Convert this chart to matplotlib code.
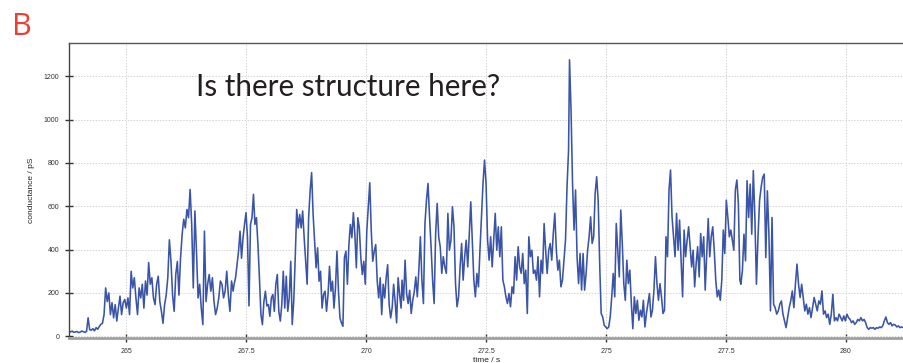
#Conductance trace re-drawn from the figure panel B
import numpy as np
import matplotlib
matplotlib.use('Agg')
import matplotlib.pyplot as plt

#Data: conductance (pS), in 5 consecutive stretches
#each stretch is sampled uniformly between its start and end time (s)
#---------------------------------
seg1_t = [263.81, 267.23]
seg1_g = [22, 20, 24, 18, 20, 22, 17, 19, 24, 21, 18, 22, 85, 30, 28, 35, 25, 40, 32, 45,
          55, 60, 100, 223, 160, 200, 100, 155, 85, 146, 70, 130, 185, 100, 155, 170, 130, 177,
          100, 300, 223, 270, 177, 100, 223, 177, 240, 130, 255, 190, 340, 240, 270, 177, 146,
          240, 277, 160, 115, 60, 146, 190, 270, 445, 345, 190, 115, 285, 345, 190, 360, 470,
          540, 500, 585, 547, 677, 516, 223, 578, 393, 177, 240, 130, 54, 485, 160, 240, 285,
          208, 270, 160, 100, 130, 177, 255, 240, 177, 208, 300, 190, 115, 255, 208]

seg2_t = [267.25, 270.73]
seg2_g = [240, 270, 330, 393, 485, 360, 455, 516, 570, 455, 140, 516, 547, 655, 516, 547, 423,
          270, 100, 54, 160, 208, 140, 146, 92, 177, 193, 115, 240, 285, 115, 70, 146, 300, 130,
          277, 115, 177, 346, 54, 160, 360, 585, 500, 562, 500, 578, 455, 346, 240, 547, 670,
          755, 562, 440, 316, 408, 254, 300, 130, 193, 208, 115, 193, 323, 208, 254, 130, 223,
          393, 208, 85, 62, 46, 362, 393, 240, 423, 516, 455, 570, 470, 316, 547, 500, 362, 285,
          346, 240, 485, 593, 708, 485, 346, 393, 423, 254, 177, 270, 100, 240, 177, 270, 330,
          146, 85, 130, 240, 160, 62, 270, 193, 130]

seg3_t = [270.75, 274.22]
seg3_g = [259, 166, 351, 197, 151, 212, 105, 166, 205, 274, 182, 305, 459, 259, 151, 520, 628,
          705, 551, 413, 259, 151, 474, 613, 459, 413, 290, 367, 320, 290, 567, 397, 443, 598,
          505, 243, 136, 182, 320, 428, 259, 367, 443, 320, 474, 620, 443, 259, 182, 290, 228,
          397, 551, 705, 813, 705, 443, 351, 459, 320, 443, 567, 397, 505, 367, 505, 259, 228,
          182, 151, 197, 136, 228, 197, 367, 259, 413, 320, 290, 382, 243, 305, 105, 459, 367,
          397, 290, 305, 259, 367, 182, 351, 290, 520, 397, 290, 397, 428, 351, 474, 567, 397,
          305, 351, 228, 259, 351, 443, 690, 859]

seg4_t = [274.24, 277.79]
seg4_g = [1275, 1044, 705, 490, 675, 367, 243, 382, 213, 382, 213, 290, 397, 459, 551, 428,
          459, 659, 736, 628, 336, 105, 89, 51, 43, 35, 43, 89, 182, 290, 182, 520, 397, 274,
          582, 428, 243, 166, 351, 243, 305, 151, 35, 182, 105, 166, 74, 120, 89, 166, 43, 105,
          151, 197, 89, 120, 213, 367, 243, 166, 243, 182, 105, 120, 459, 367, 675, 767, 551,
          459, 367, 567, 397, 536, 351, 182, 490, 367, 443, 505, 413, 320, 397, 228, 336, 413,
          274, 474, 367, 459, 213, 382, 543, 367, 459, 505, 397, 259, 182, 213, 166, 259, 490,
          382, 628, 551, 459, 490, 443, 397, 675, 721, 613, 259]

seg5_t = [277.81, 281.19]
seg5_g = [240, 302, 471, 348, 718, 548, 702, 471, 764, 548, 240, 456, 625, 687, 733, 748, 363,
          671, 471, 117, 548, 148, 132, 102, 117, 148, 163, 102, 71, 40, 86, 132, 163, 209, 132,
          240, 333, 240, 179, 240, 179, 117, 148, 102, 132, 86, 132, 179, 148, 117, 163, 148,
          209, 102, 117, 86, 102, 55, 102, 194, 71, 86, 71, 102, 86, 71, 94, 71, 102, 86, 78,
          63, 71, 55, 63, 78, 71, 86, 71, 78, 63, 40, 32, 40, 37, 40, 32, 40, 37, 43, 40, 48,
          71, 89, 63, 55, 63, 48, 55, 52, 43, 48, 40, 43, 40]
#---------------------------------

#Ticks
xtick_values = [265, 267.5, 270, 272.5, 275, 277.5, 280]
xtick_labels = ['265', '267.5', '270', '272.5', '275', '277.5', '280']
ytick_values = [0, 200, 400, 600, 800, 1000, 1200]

#Build the full trace
segments = [(seg1_t, seg1_g), (seg2_t, seg2_g), (seg3_t, seg3_g), (seg4_t, seg4_g), (seg5_t, seg5_g)]
time = np.concatenate([np.linspace(t[0], t[1], len(g)) for t, g in segments])
cond = np.concatenate([np.array(g, dtype=float) for t, g in segments])

#Figure settings
#--------------------------------
size_ticks = 5; size_axis = 6
line_col = '#3a54a6'
#--------------------------------

fig = plt.figure(figsize=(9.04, 3.63), dpi=100)
ax = fig.add_axes([69/904, 1-338/363, 1-69/904, (338-43)/363])

ax.plot(time, cond, color=line_col, lw=1.15)

ax.set_xlim(263.81, 281.21)
ax.set_ylim(-8, 1353)

#Grid
ax.grid(True, color='#d4d4d4', linestyle=(0, (1.5, 1.5)), lw=0.7)
ax.set_axisbelow(True)

#Spines
ax.spines['right'].set_visible(False)
ax.spines['left'].set_color('#444444'); ax.spines['left'].set_linewidth(1.0)
ax.spines['top'].set_color('#555555'); ax.spines['top'].set_linewidth(1.0)
ax.spines['bottom'].set_color('#a0a0a0'); ax.spines['bottom'].set_linewidth(2.0)

#Ticks
ax.set_xticks(xtick_values)
ax.set_xticklabels(xtick_labels)
ax.set_yticks(ytick_values)
ax.tick_params(axis='both', direction='inout', length=6, width=1.0, color='#333333',
               labelsize=size_ticks, labelcolor='#333333', pad=4)
for lab in ax.get_xticklabels() + ax.get_yticklabels():
    lab.set_family('Liberation Sans')

#Labels
ax.set_xlabel('time / s', fontsize=size_axis, family='Liberation Sans', labelpad=2, color='#222222')
ax.set_ylabel('conductance / pS', fontsize=size_axis, family='Liberation Sans', labelpad=6, color='#222222')

#Panel letter and question
fig.text(12/904, 1-35/363, 'B', fontsize=22, color='#ee3d34', family='Open Sans', va='baseline')
ax.text(196/904, 1-96/363, 'Is there structure here?', transform=fig.transFigure,
        fontsize=21.3, color='#231f20', family='Lato', va='baseline')

fig.savefig('out.png', dpi=100)
